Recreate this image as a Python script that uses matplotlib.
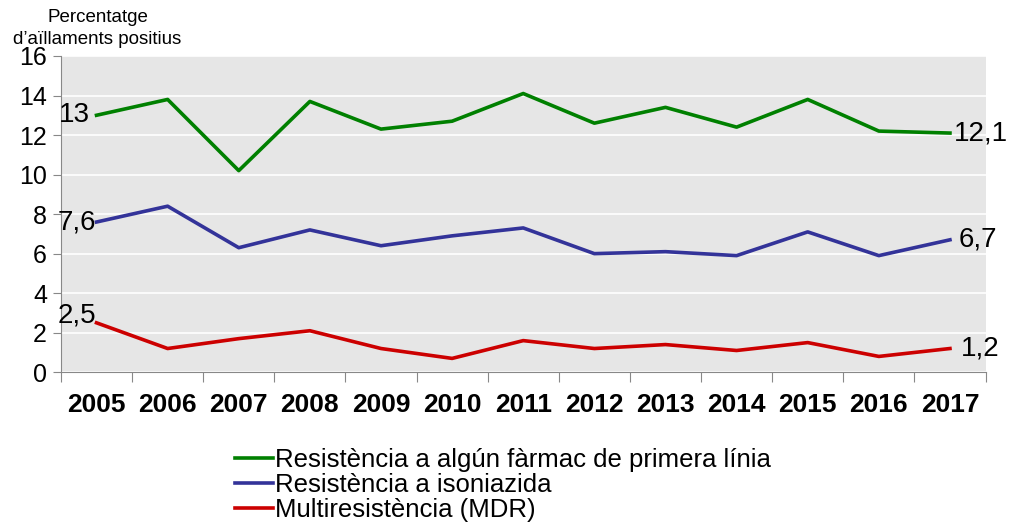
import numpy as np
import matplotlib.pyplot as plt

plt.rcParams["font.family"] = ["Liberation Sans", "DejaVu Sans"]

years = ["2005", "2006", "2007", "2008", "2009", "2010", "2011",
         "2012", "2013", "2014", "2015", "2016", "2017"]
primera_linia = [13.0, 13.8, 10.2, 13.7, 12.3, 12.7, 14.1, 12.6, 13.4, 12.4, 13.8, 12.2, 12.1]
isoniazida = [7.6, 8.4, 6.3, 7.2, 6.4, 6.9, 7.3, 6.0, 6.1, 5.9, 7.1, 5.9, 6.7]
mdr = [2.5, 1.2, 1.7, 2.1, 1.2, 0.7, 1.6, 1.2, 1.4, 1.1, 1.5, 0.8, 1.2]

series = [
    ("Resistència a algún fàrmac de primera línia", primera_linia, "#008000"),
    ("Resistència a isoniazida", isoniazida, "#333399"),
    ("Multiresistència (MDR)", mdr, "#CC0000"),
]

fig = plt.figure(figsize=(10.16, 5.28), dpi=100)
ax = fig.add_axes([0.060, 0.295, 0.910, 0.599])
ax.set_facecolor("#E6E6E6")

x = np.arange(len(years))
for label, vals, color in series:
    ax.plot(x, vals, color=color, linewidth=2.6, label=label)

# end labels
fmt = lambda v: f"{v:g}".replace(".", ",")
lab_fs = 20
ax.text(x[0] - 0.1, primera_linia[0], fmt(primera_linia[0]), ha="right", va="center", fontsize=lab_fs)
ax.text(x[-1] + 0.05, primera_linia[-1], fmt(primera_linia[-1]), ha="left", va="center", fontsize=lab_fs)
ax.text(x[0], isoniazida[0], fmt(isoniazida[0]), ha="right", va="center", fontsize=lab_fs)
ax.text(x[-1] + 0.12, isoniazida[-1], fmt(isoniazida[-1]), ha="left", va="center", fontsize=lab_fs)
ax.text(x[0], mdr[0] + 0.35, fmt(mdr[0]), ha="right", va="center", fontsize=lab_fs)
ax.text(x[-1] + 0.15, mdr[-1], fmt(mdr[-1]), ha="left", va="center", fontsize=lab_fs)

ax.set_xlim(-0.5, len(years) - 0.5)
ax.set_ylim(0, 16)
ax.set_yticks(np.arange(0, 17, 2))
ax.tick_params(axis="y", labelsize=18, length=6, color="#888888", direction="out", pad=4)
ax.yaxis.grid(True, color="white", linewidth=1.2)
ax.set_axisbelow(True)

ax.set_xticks(np.arange(-0.5, len(years), 1.0))
ax.set_xticklabels([])
ax.set_xticks(x, minor=True)
ax.set_xticklabels(years, minor=True, fontsize=19, fontweight="bold")
ax.tick_params(axis="x", which="major", length=7, color="#888888", direction="out")
ax.tick_params(axis="x", which="minor", length=0, pad=15)

for s in ["top", "right"]:
    ax.spines[s].set_visible(False)
for s in ["left", "bottom"]:
    ax.spines[s].set_color("#888888")

fig.text(0.096, 0.966, "Percentatge", ha="center", va="center", fontsize=13.5)
fig.text(0.096, 0.926, "d\u2019aïllaments positius", ha="center", va="center", fontsize=13.5)

fig.legend(loc="upper left", bbox_to_anchor=(0.231, 0.152), frameon=False,
           fontsize=18.5, handlelength=1.5, handletextpad=0.05, labelspacing=0.04,
           borderpad=0, borderaxespad=0)

fig.savefig("out.png", dpi=100)
